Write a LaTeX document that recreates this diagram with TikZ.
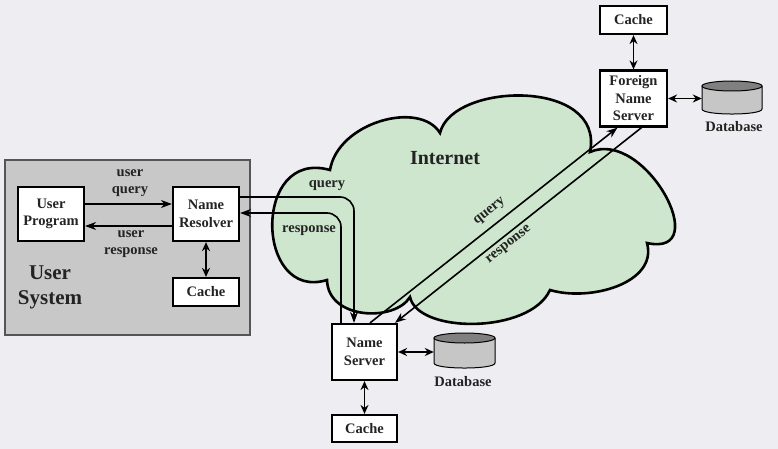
\documentclass[tikz,border=0pt]{standalone}
\usepackage{fontspec}
\setmainfont{Liberation Serif}
\usetikzlibrary{arrows.meta}
\definecolor{bg}{RGB}{238,238,242}
\definecolor{usysfill}{RGB}{200,200,200}
\definecolor{usysline}{RGB}{85,85,85}
\definecolor{cloudfill}{RGB}{205,230,205}
\definecolor{txt}{RGB}{35,35,35}
\definecolor{dbtop}{RGB}{128,128,128}
\definecolor{dbbody}{RGB}{198,198,198}
\begin{document}
\begin{tikzpicture}[x=1pt,y=-1pt,
  font=\fontsize{14.5}{17.5}\selectfont\bfseries,
  box/.style={draw=black, line width=2.2pt, fill=white, inner sep=1pt, align=center, text=txt},
  lbl/.style={text=txt, align=center, inner sep=1pt},
  arr/.style={line width=1.6pt, -{Stealth[length=11pt,width=8pt]}},
  rarr/.style={line width=1.6pt, {Stealth[length=11pt,width=8pt]}-},
  darr/.style={line width=1.7pt, {Stealth[length=9pt,width=8pt]}-{Stealth[length=9pt,width=8pt]}},
  dbline/.style={draw=black, line width=1pt}
]
\path[fill=bg] (0,0) rectangle (778,449);
\useasboundingbox (0,0) rectangle (778,449);

% user system
\node[draw=usysline, fill=usysfill, line width=1.5pt, minimum width=245pt, minimum height=175pt, inner sep=0pt] (usys) at (127.5,247.5) {};
\node[lbl, font=\fontsize{21}{25}\selectfont\bfseries] (ustxt) at (50,287) {User\\System};

\node[box, minimum width=66pt, minimum height=54pt] (uprog) at (51,214) {User\\Program};
\node[box, minimum width=66pt, minimum height=54pt] (resolver) at (206,214) {Name\\Resolver};
\node[box, minimum width=66pt, minimum height=28pt] (ucache) at (206,292) {Cache};

\draw[arr] ([yshift=10pt]uprog.east) -- ([yshift=10pt]resolver.west);
\draw[arr] ([yshift=-12pt]resolver.west) -- ([yshift=-12pt]uprog.east);
\node[lbl] (luq) at (130,183) {user\\query};
\node[lbl] (lur) at (131,244) {user\\response};
\draw[darr] (resolver.south) -- (ucache.north);

% cloud
\draw[fill=cloudfill, line width=2.6pt]
  (330,170) .. controls (338,122) and (420,100) .. (440,133)
  .. controls (452,82) and (605,78) .. (590,152)
  .. controls (645,128) and (715,258) .. (647,243)
  .. controls (658,283) and (590,302) .. (550,290)
  .. controls (530,334) and (418,334) .. (410,297)
  .. controls (395,322) and (328,320) .. (327,280)
  .. controls (255,302) and (252,148) .. cycle;
\node[lbl, font=\fontsize{20}{24}\selectfont\bfseries] (inet) at (445,158) {Internet};

% servers
\node[box, minimum width=65pt, minimum height=56pt] (ns) at (364.5,352) {Name\\Server};
\node[box, minimum width=65pt, minimum height=27pt] (nscache) at (364.5,428.5) {Cache};
\node[box, minimum width=67pt, minimum height=56pt] (fns) at (633.5,98.5) {Foreign\\Name\\Server};
\node[box, minimum width=67pt, minimum height=28pt] (fcache) at (633.5,20) {Cache};

% databases
\node[minimum width=61pt, minimum height=35pt, inner sep=0pt] (db1) at (464.5,350.5) {};
\fill[dbbody] (434,338) -- (434,363) .. controls (434,369.7) and (495,369.7) .. (495,363) -- (495,338) -- cycle;
\draw[dbline] (434,338) -- (434,363) .. controls (434,369.7) and (495,369.7) .. (495,363) -- (495,338);
\draw[dbline, fill=dbtop] (464.5,338) ellipse [x radius=30.5, y radius=5];
\node[lbl] (db1l) at (463,382) {Database};

\node[minimum width=60pt, minimum height=33pt, inner sep=0pt] (db2) at (732,97.5) {};
\fill[dbbody] (702,86) -- (702,109) .. controls (702,115.7) and (762,115.7) .. (762,109) -- (762,86) -- cycle;
\draw[dbline] (702,86) -- (702,109) .. controls (702,115.7) and (762,115.7) .. (762,109) -- (762,86);
\draw[dbline, fill=dbtop] (732,86) ellipse [x radius=30, y radius=5];
\node[lbl] (db2l) at (734,127) {Database};

\draw[darr] (ns.south) -- (nscache.north);
\draw[darr] (ns.east) -- (db1.west |- ns.east);
\draw[darr] (fns.north) -- (fcache.south);
\draw[darr] (fns.east) -- (db2.west |- fns.east);

% resolver <-> name server
\coordinate (qc) at (354,197);
\coordinate (rc) at (341,213);
\draw[arr, rounded corners=14pt] (resolver.east |- qc) -- (qc) -- (qc |- ns.north);
\draw[arr, rounded corners=14pt] (rc |- ns.north) -- (rc) -- (resolver.east |- rc);
\node[lbl] (lq) at (327,186) {query};
\node[lbl] (lr) at (309,231) {response};

% name server <-> foreign name server
\draw[arr] ([xshift=5.5pt]ns.north) -- ([xshift=-16pt]fns.south);
\draw[rarr] ([xshift=30.5pt]ns.north) -- ([xshift=8pt]fns.south);
\node[lbl, rotate=38.3] (lq2) at (490,212) {query};
\node[lbl, rotate=38.3] (lr2) at (509,245) {response};
\end{tikzpicture}
\end{document}
